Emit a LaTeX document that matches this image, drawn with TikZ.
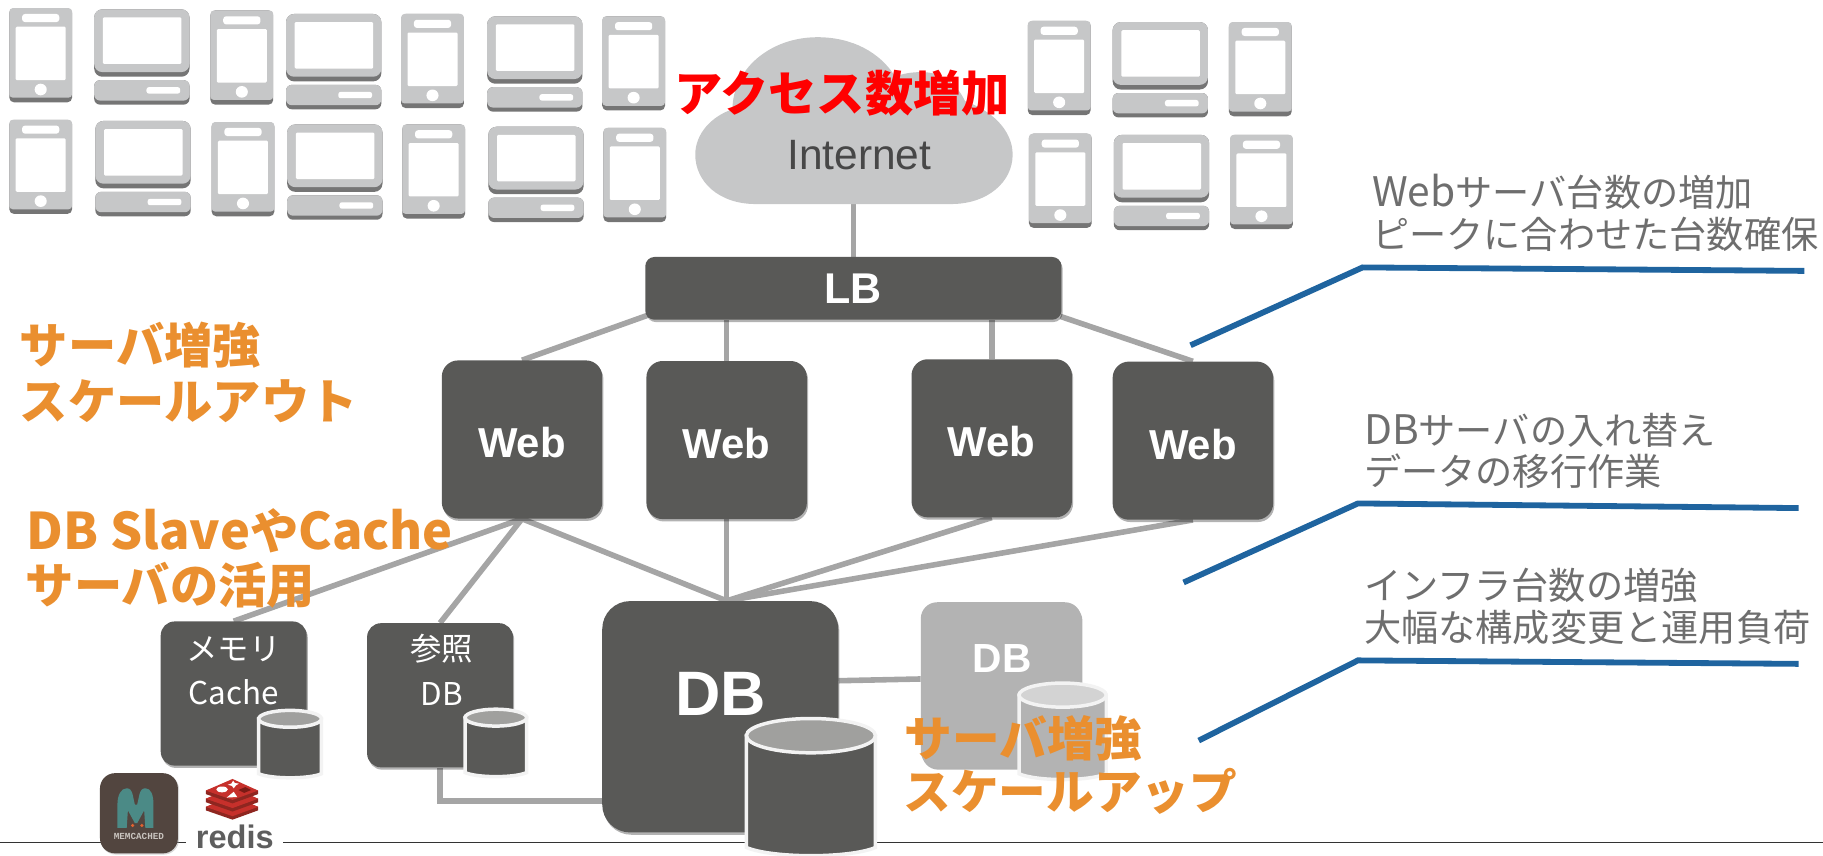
\documentclass[tikz,border=0pt]{standalone}
\usepackage{fontspec}
\setmainfont{Liberation Sans}
\newfontfamily\cjk{Noto Sans CJK JP}
\newfontfamily\lmono{Liberation Mono}
\usetikzlibrary{shadows,backgrounds,calc}
\definecolor{box}{HTML}{595957}
\definecolor{dev}{HTML}{C6C7C8}
\definecolor{devd}{HTML}{757575}
\definecolor{conn}{HTML}{A5A5A5}
\definecolor{org}{HTML}{EA8F2F}
\definecolor{bluel}{HTML}{1F649F}
\definecolor{gtext}{HTML}{6E6E6E}
\definecolor{lightbox}{HTML}{B3B3B3}
\definecolor{cylo}{HTML}{F3F3F3}
\definecolor{cyltop}{HTML}{A0A09E}
\definecolor{cyltopl}{HTML}{D3D3D3}
\definecolor{memb}{HTML}{52453F}
\definecolor{memt}{HTML}{4B8A86}
\definecolor{memd}{HTML}{E2622F}
\definecolor{memx}{HTML}{C9C4BF}
\definecolor{redd}{HTML}{8E2620}
\definecolor{redl}{HTML}{C6302B}
\definecolor{redk}{HTML}{7A1B15}
\definecolor{redx}{HTML}{5E5E5E}
\newcommand{\headlatin}[1]{{\fontsize{43.4}{48}\selectfont #1}}
\newcommand{\notelatin}[1]{{\fontsize{35}{36}\selectfont #1}}
\newcommand{\webword}{\raisebox{-3pt}[\height][\depth]{Web}\hspace{3pt}}
\tikzset{
  softshadow/.style={drop shadow={shadow xshift=1pt,shadow yshift=-2pt,opacity=.3,fill=black}},
  srv/.style={fill=box,inner sep=0pt,text=white,softshadow},
  webbox/.style={srv,rounded corners=14pt,minimum width=138pt,minimum height=136pt,font=\bfseries\fontsize{36}{40}\selectfont},
  smallbox/.style={srv,rounded corners=12pt,minimum width=125.5pt,minimum height=124pt},
  conline/.style={draw=conn,line width=4.8pt},
  callout/.style={draw=bluel,line width=5pt,miter limit=10},
  headred/.style={anchor=base west,inner sep=0pt,text=red,font=\cjk\bfseries\fontsize{41.5}{46}\selectfont},
  headorg/.style={anchor=base west,inner sep=0pt,text=org,align=left,font=\cjk\bfseries\fontsize{41.5}{48}\selectfont},
  headup/.style={headorg,font=\cjk\bfseries\fontsize{41}{48}\selectfont},
  note/.style={anchor=base west,inner sep=0pt,text=gtext,align=left,font=\cjk\fontsize{32}{36}\selectfont},
  smalltext/.style={inner sep=0pt,text=white,font=\cjk\fontsize{27}{30}\selectfont},
  phone/.pic={
    \fill[devd,rounded corners=4pt] (0,0) rectangle (54,81);
    \fill[dev,rounded corners=3pt] (0,0) rectangle (54,77);
    \fill[white,rounded corners=2.5pt] (11,5) rectangle (43,12);
    \fill[white,rounded corners=1pt] (5.5,16) rectangle (48.5,62);
    \fill[white] (27,70) ellipse [x radius=5.2pt,y radius=5pt];
  },
  desk/.pic={
    \fill[devd,rounded corners=7pt] (0,0) rectangle (82,58);
    \fill[dev,rounded corners=7pt] (0,0) rectangle (82,54);
    \fill[white,rounded corners=1pt] (7.5,7) rectangle (75,47);
    \fill[devd,rounded corners=5pt] (0,61) rectangle (82,82);
    \fill[dev,rounded corners=5pt] (0,61) rectangle (82,78.5);
    \fill[white,rounded corners=2pt] (45,67) rectangle (74,72.5);
  },
  pics/cyl/.style 2 args={code={
    \draw[cylo,line width=3pt,fill=#1] (0,.125) -- (0,.94) .. controls (.2,1.02) and (.8,1.02) .. (1,.94) -- (1,.125) -- cycle;
    \draw[cylo,line width=3pt,fill=#2] (.5,.125) ellipse [x radius=.5,y radius=.125];
  }},
}
\begin{document}
\begin{tikzpicture}[x=1pt,y=-1pt]
\useasboundingbox (0,0) rectangle (1568,736);
% ground line
\draw[draw=black!80,line width=1pt] (0,725) -- (1568,725);

% devices
\foreach \x/\y in {8/7,181/9,345/12,518/14,8/103,182/105,346/107,519/110,884/18,1057/19,885/115,1058/116}
  \pic at (\x,\y) {phone};
\foreach \x/\y in {81/8,246/12,419/14,82/104,247/107,420/109,957/19,958/116}
  \pic at (\x,\y) {desk};

% cloud
\fill[dev] (650,175.5) .. controls (618,175.5) and (598,156) .. (598,133)
  .. controls (598,115) and (612,100) .. (630,94)
  .. controls (630,60) and (662,32) .. (703,32)
  .. controls (733,32) and (757,45) .. (770,66)
  .. controls (777,63) and (785,62) .. (793,62)
  .. controls (810,62) and (823,72) .. (830,87)
  .. controls (853,95) and (871,112) .. (871,133)
  .. controls (871,156) and (850,175.5) .. (818,175.5) -- cycle;
\node[inner sep=0pt,text=black!72,font=\fontsize{36.5}{40}\selectfont] (internet) at (739,133) {Internet};

% servers
\node[srv,rounded corners=8pt,minimum width=358pt,minimum height=54pt,font=\bfseries\fontsize{37}{40}\selectfont] (lb) at (734,248) {LB};
\node[webbox] (web1) at (449,378) {\webword};
\node[webbox] (web2) at (625,378.5) {\webword};
\node[webbox] (web3) at (853,377) {\webword};
\node[webbox] (web4) at (1026,379) {\webword};
\node[smallbox] (mem) at (201,596.5) {};
\node[smallbox] (ref) at (378.5,598) {};
\node[srv,rounded corners=24pt,minimum width=203pt,minimum height=199pt] (db) at (619.5,616.5) {};
\node[srv,fill=lightbox,rounded corners=14pt,minimum width=138pt,minimum height=142pt] (dbb) at (861,589) {};

\node[inner sep=0pt,text=white,font=\bfseries\fontsize{54}{56}\selectfont] (dbtext) at (620,597) {DB};
\node[inner sep=0pt,text=white,font=\bfseries\fontsize{35}{40}\selectfont] (dbbtext) at (862,566) {DB};
\node[smalltext] (memt1) at (201,558) {メモリ};
\node[smalltext] (memt2) at (201,595) {Cache};
\node[smalltext] (reft1) at (380,558) {参照};
\node[smalltext] (reft2) at (380,597) {DB};

% connectors
\begin{pgfonlayer}{background}
\draw[conline] (lb.north |- internet.south) -- (lb.north);
\draw[conline] ([shift={(5pt,5pt)}]lb.south west) -- (web1.north);
\draw[conline] (web2.north |- lb.south) -- (web2.north);
\draw[conline] (web3.north |- lb.south) -- (web3.north);
\draw[conline] ([shift={(-1pt,3pt)}]lb.south east) -- (web4.north);
\coordinate (dbtop) at ([xshift=5.5pt]db.north);
\draw[conline] (web1.south) -- (dbtop);
\draw[conline] (web2.south) -- (dbtop);
\draw[conline] (web3.south) -- (dbtop);
\draw[conline] (web4.south) -- (dbtop);
\draw[conline] (web1.south) -- (mem.north);
\draw[conline] (web1.south) -- (ref.north);
\draw[conline] ([yshift=31pt]db.east) -- ([yshift=5pt]dbb.west);
\draw[conline] (ref.south) |- ([yshift=-72.5pt]db.west);
\end{pgfonlayer}

% logos
\fill[white] (160,665) rectangle (243,730);
\fill[black!40,opacity=.4,rounded corners=13pt] (86.5,666) rectangle (154,735);
\fill[memb,rounded corners=13pt] (86,665) rectangle (153,734);
\fill[memt] (101,712) -- (101,692) .. controls (101,684) and (104,678) .. (109,678)
  .. controls (112,678) and (113,680) .. (114,683)
  -- (116,692) -- (118,692) -- (120,683)
  .. controls (121,680) and (122,678) .. (125,678)
  .. controls (130,678) and (132,684) .. (132,692) -- (132,712) -- (125,712) -- (124,697)
  -- (118,708) -- (116,708) -- (110,697) -- (109,712) -- cycle;
\fill[memd] (114,710) circle [radius=1.5pt] (122,710) circle [radius=1.5pt];
\node[inner sep=0pt,text=memx,font=\lmono\bfseries\fontsize{8}{9}\selectfont] (memlogo) at (119.5,719) {MEMCACHED};

\foreach \d in {14,7,0} {
  \fill[redd] (177,680+\d) -- (177,683+\d) -- (200,691+\d) -- (222,683+\d) -- (222,680+\d) -- (200,672+\d) -- cycle;
  \fill[redl] (177,680+\d) -- (200,688+\d) -- (222,680+\d) -- (200,670+\d) -- cycle;
}
\fill[white] (191,679) ellipse [x radius=5pt,y radius=2.5pt];
\fill[white] (200.5,671.5) -- (202,673.5) -- (205.5,674) -- (203,675.5) -- (201,678) -- (199.5,676) -- (196,675) -- (199,674) -- cycle;
\fill[white] (195,686) -- (204,685.5) -- (201,681) -- cycle;
\fill[redk] (205,679.5) -- (211,677) -- (216,679.5) -- (210,682) -- cycle;
\node[anchor=base,inner sep=0pt,text=redx,font=\bfseries\fontsize{28}{30}\selectfont] (redislogo) at (202,730) {redis};

% cylinders
\pic[xscale=54,yscale=58] at (222.5,611) {cyl={box}{cyltop}};
\pic[xscale=53,yscale=58] at (400,610) {cyl={box}{cyltop}};
\pic[xscale=111,yscale=118] at (642,618) {cyl={box}{cyltop}};
\pic[xscale=75,yscale=83] at (876.5,587.5) {cyl={lightbox}{cyltopl}};

% headings
\node[headred] (access) at (580,96) {アクセス数増加};
\node[headorg] (out1) at (17,313) {サーバ増強};
\node[headorg] (out2) at (17,361) {スケールアウト};
\node[headorg] (slave1) at (23,473) {\headlatin{DB Slave}や\headlatin{Cache}};
\node[headorg] (slave2) at (22,519) {サーバの活用};
\node[headup] (up1) at (778,651) {サーバ増強};
\node[headup] (up2) at (777,696) {スケールアップ};

% notes
\node[note] (n1) at (1180,178) {\notelatin{Web}サーバ台数の増加};
\node[note] (n2) at (1180,214) {ピークに合わせた台数確保};
\node[note] (n3) at (1173,382) {\notelatin{DB}サーバの入れ替え};
\node[note] (n4) at (1173,418) {データの移行作業};
\node[note] (n5) at (1173,516) {インフラ台数の増強};
\node[note] (n6) at (1173,552) {大幅な構成変更と運用負荷};

% callouts
\coordinate (c1a) at (1024,297); \coordinate (c1b) at (1172,230); \coordinate (c1c) at (1552,233);
\coordinate (c2a) at (1018,501); \coordinate (c2b) at (1168,433); \coordinate (c2c) at (1547,437);
\coordinate (c3a) at (1031,637); \coordinate (c3b) at (1168,568); \coordinate (c3c) at (1547,571);
\draw[callout] (c1a) -- (c1b) -- (c1c);
\draw[callout] (c2a) -- (c2b) -- (c2c);
\draw[callout] (c3a) -- (c3b) -- (c3c);
\end{tikzpicture}
\end{document}
